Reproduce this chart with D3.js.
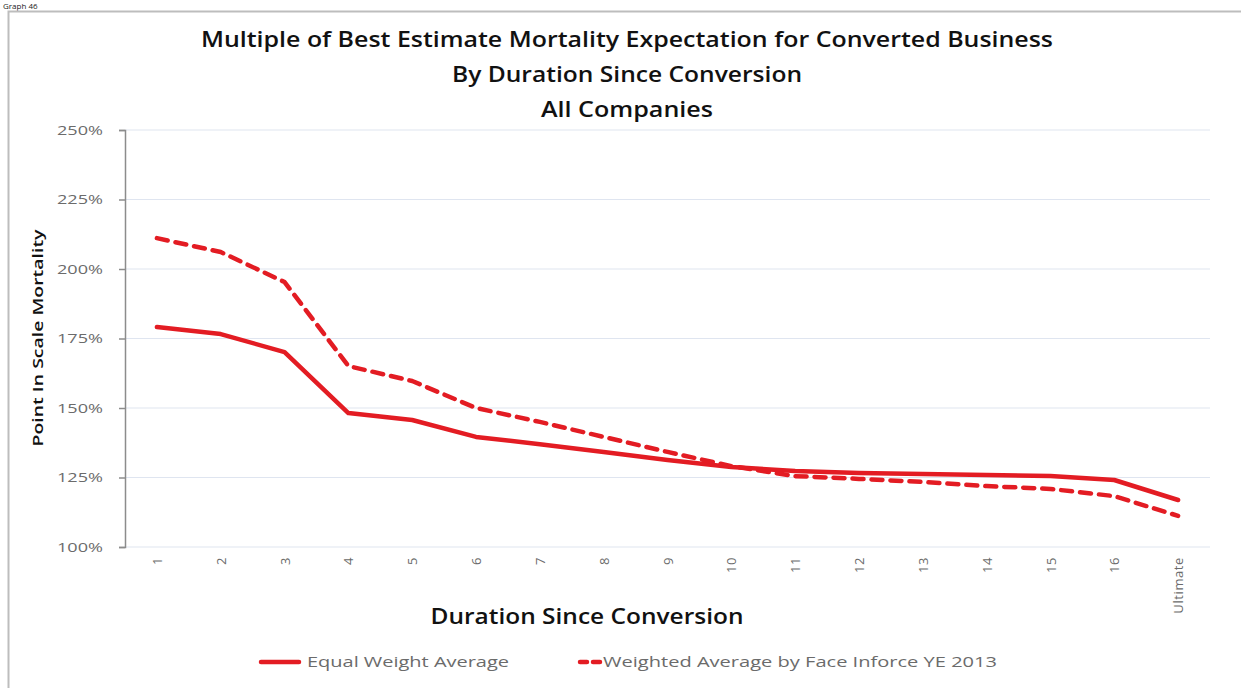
<!DOCTYPE html>
<html><head><meta charset="utf-8">
<script src="https://cdn.jsdelivr.net/npm/d3@7"></script>
<style>body{margin:0;background:#fff}svg{display:block}</style>
</head><body>
<script>
const categories = ["1","2","3","4","5","6","7","8","9","10","11","12","13","14","15","16","Ultimate"];
const equalWeight = [179.1,176.6,170.1,148.2,145.7,139.6,137.0,134.2,131.3,128.8,127.3,126.6,126.3,125.9,125.5,124.1,116.9];
const weightedFace = [211.1,206.1,195.3,165.1,159.7,150.0,145.0,139.6,134.2,129.1,125.5,124.5,123.4,121.9,120.9,118.3,111.2];
const yTicks = [100,125,150,175,200,225,250];
const titleLines = ["Multiple of Best Estimate Mortality Expectation for Converted Business","By Duration Since Conversion","All Companies"];
const seriesNames = ["Equal Weight Average","Weighted Average by Face Inforce YE 2013"];

const W=1241,H=688;
const svg=d3.select("body").append("svg").attr("width",W).attr("height",H);
const font="'Open Sans', Lato, sans-serif";
const red="#e31c23";

svg.append("text").attr("x",3).attr("y",9).attr("font-family",font).attr("font-size",8).attr("fill","#222").text("Graph 46");
svg.append("rect").attr("x",8.5).attr("y",11.5).attr("width",1260).attr("height",700).attr("fill","none").attr("stroke","#bdbdbd").attr("stroke-width",2);

const m={l:125,r:1210,t:130,b:547};
const x=d3.scalePoint().domain(categories).range([m.l,m.r]).padding(0.5);
const y=d3.scaleLinear().domain([100,250]).range([m.b,m.t]);

// grid
svg.append("g").selectAll("line").data(yTicks).join("line")
  .attr("x1",m.l).attr("x2",m.r).attr("y1",d=>y(d)).attr("y2",d=>y(d))
  .attr("stroke","#dfe5f0").attr("stroke-width",1.2);

// y axis
const ya=svg.append("g").attr("transform",`translate(${m.l},0)`)
  .call(d3.axisLeft(y).tickValues(yTicks).tickFormat(d=>d+"%").tickSize(6).tickPadding(16));
ya.select(".domain").attr("stroke","#8c8c8c").attr("stroke-width",1.5);
ya.selectAll(".tick line").attr("stroke","#8c8c8c").attr("stroke-width",1.5);
ya.selectAll("text").attr("font-family",font).attr("font-size",13).attr("fill","#6b6b6b")
  .attr("textLength",46).attr("lengthAdjust","spacingAndGlyphs");

// x axis labels
const xa=svg.append("g").attr("transform",`translate(0,${m.b})`)
  .call(d3.axisBottom(x).tickSize(0).tickPadding(0));
xa.select(".domain").remove();
xa.selectAll("text").attr("font-family",font).attr("font-size",13).attr("fill","#6b6b6b")
  .attr("transform","rotate(-90)").attr("text-anchor","end").attr("dx","-10").attr("dy","0.35em").attr("letter-spacing","0.6px");

// lines
const line=d3.line().x((d,i)=>x(categories[i])).y(d=>y(d));
svg.append("path").datum(equalWeight).attr("d",line).attr("fill","none").attr("stroke",red).attr("stroke-width",4.5).attr("stroke-linejoin","round").attr("stroke-linecap","round");
svg.append("path").datum(weightedFace).attr("d",line).attr("fill","none").attr("stroke",red).attr("stroke-width",4.5).attr("stroke-dasharray","11,8").attr("stroke-linejoin","round").attr("stroke-linecap","round");

// titles
const titleLens=[852,350,172];
svg.append("g").selectAll("text").data(titleLines).join("text")
  .attr("x",627).attr("y",(d,i)=>47+i*35).attr("text-anchor","middle")
  .attr("font-family",font).attr("font-weight","600").attr("font-size",22).attr("fill","#111")
  .attr("textLength",(d,i)=>titleLens[i]).attr("lengthAdjust","spacingAndGlyphs").text(d=>d);
svg.append("text").attr("x",587).attr("y",624).attr("text-anchor","middle").attr("font-family",font).attr("font-weight","600").attr("font-size",21).attr("fill","#111")
  .attr("textLength",313).attr("lengthAdjust","spacingAndGlyphs").text("Duration Since Conversion");
svg.append("text").attr("transform","translate(43,338) rotate(-90)").attr("text-anchor","middle").attr("font-family",font).attr("font-weight","600").attr("font-size",15).attr("fill","#111")
  .attr("textLength",217).attr("lengthAdjust","spacingAndGlyphs").text("Point In Scale Mortality");

// legend
const lg=svg.append("g");
lg.append("line").attr("x1",261).attr("x2",299).attr("y1",662).attr("y2",662).attr("stroke",red).attr("stroke-width",4.5).attr("stroke-linecap","round");
lg.append("text").attr("x",307).attr("y",667).attr("font-family",font).attr("font-size",14).attr("fill","#6b6b6b")
  .attr("textLength",202).attr("lengthAdjust","spacingAndGlyphs").text(seriesNames[0]);
lg.append("line").attr("x1",580).attr("x2",600).attr("y1",662).attr("y2",662).attr("stroke",red).attr("stroke-width",4.5).attr("stroke-dasharray","7,6").attr("stroke-linecap","round");
lg.append("text").attr("x",603).attr("y",667).attr("font-family",font).attr("font-size",14).attr("fill","#6b6b6b")
  .attr("textLength",394).attr("lengthAdjust","spacingAndGlyphs").text(seriesNames[1]);
</script>
</body></html>
